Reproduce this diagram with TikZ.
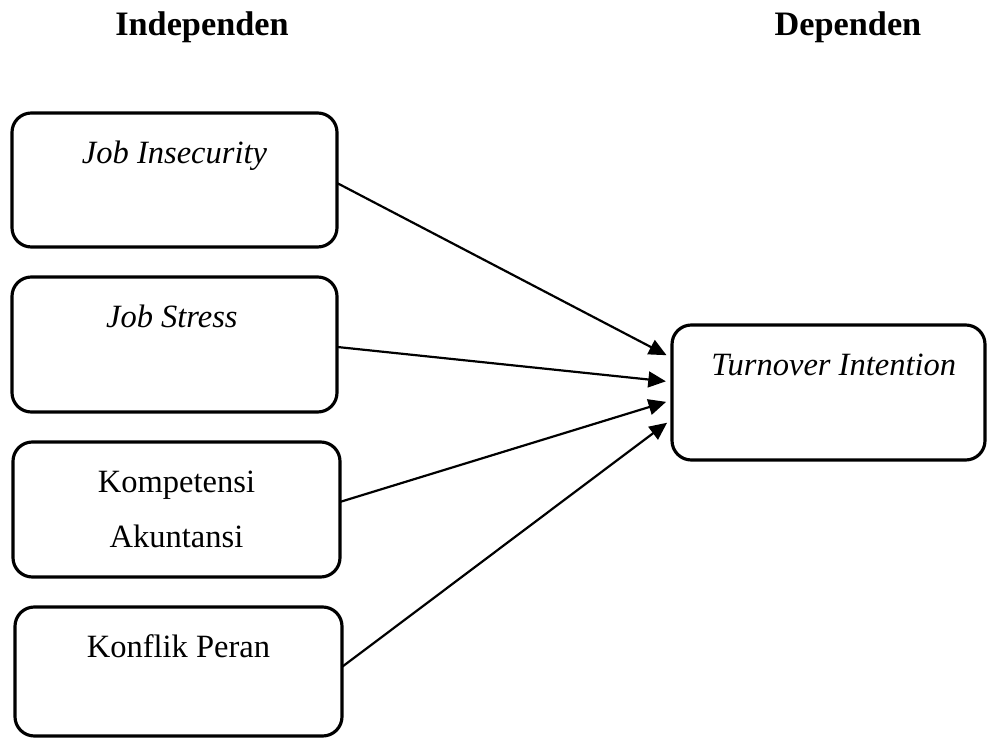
\documentclass[tikz,border=0pt]{standalone}
\usepackage{fontspec}
\setmainfont{Liberation Serif}
\usetikzlibrary{arrows.meta}

\tikzset{
  varbox/.style={draw,line width=1.8pt,rounded corners=11pt,inner sep=0pt,outer sep=0pt},
  varlbl/.style={anchor=base,font=\fontsize{18.5}{22}\selectfont},
  headlbl/.style={anchor=base,font=\fontsize{19.5}{23}\selectfont\bfseries},
  link/.style={line width=1.25pt,-{Triangle[length=10pt,width=9pt]},shorten >=3.5pt}
}

\begin{document}
\begin{tikzpicture}
  \useasboundingbox (0,0) rectangle (19.74,-14.76);
  % judul kolom
  \node[headlbl] (hind) at (4.04,-0.72) {Independen};
  \node[headlbl] (hdep) at (16.96,-0.72) {Dependen};
  % variabel independen
  \node[varbox,minimum width=6.50cm,minimum height=2.68cm] (jobins) at (3.49,-3.60) {};
  \node[varbox,minimum width=6.50cm,minimum height=2.70cm] (jobstr) at (3.49,-6.89) {};
  \node[varbox,minimum width=6.54cm,minimum height=2.70cm] (kompak) at (3.53,-10.19) {};
  \node[varbox,minimum width=6.54cm,minimum height=2.58cm] (konper) at (3.57,-13.43) {};
  % variabel dependen
  \node[varbox,minimum width=6.26cm,minimum height=2.70cm] (turnint) at (16.57,-7.85) {};
  % teks
  \node[varlbl] (tjobins) at ([yshift=-28.9pt]jobins.north) {\textit{Job Insecurity}};
  \node[varlbl] (tjobstr) at ([yshift=-28.9pt,xshift=-1.5pt]jobstr.north) {\textit{Job Stress}};
  \node[varlbl] (tkomp) at ([yshift=-28.9pt]kompak.north) {Kompetensi};
  \node[varlbl] (takun) at ([yshift=-31.3pt]tkomp.base) {Akuntansi};
  \node[varlbl] (tkonper) at ([yshift=-28.9pt]konper.north) {Konflik Peran};
  \node[varlbl] (tturnint) at ([yshift=-28.9pt,xshift=3pt]turnint.north) {\textit{Turnover Intention}};
  % panah
  \draw[link] ([yshift=-1.7pt]jobins.east) -- ([yshift=19.6pt]turnint.west);
  \draw[link] ([yshift=-1.4pt]jobstr.east) -- ([yshift=6pt]turnint.west);
  \draw[link] ([yshift=4.3pt]kompak.east) -- ([yshift=-4.3pt]turnint.west);
  \draw[link] ([yshift=2.6pt]konper.east) -- ([yshift=-15.1pt]turnint.west);
\end{tikzpicture}
\end{document}
